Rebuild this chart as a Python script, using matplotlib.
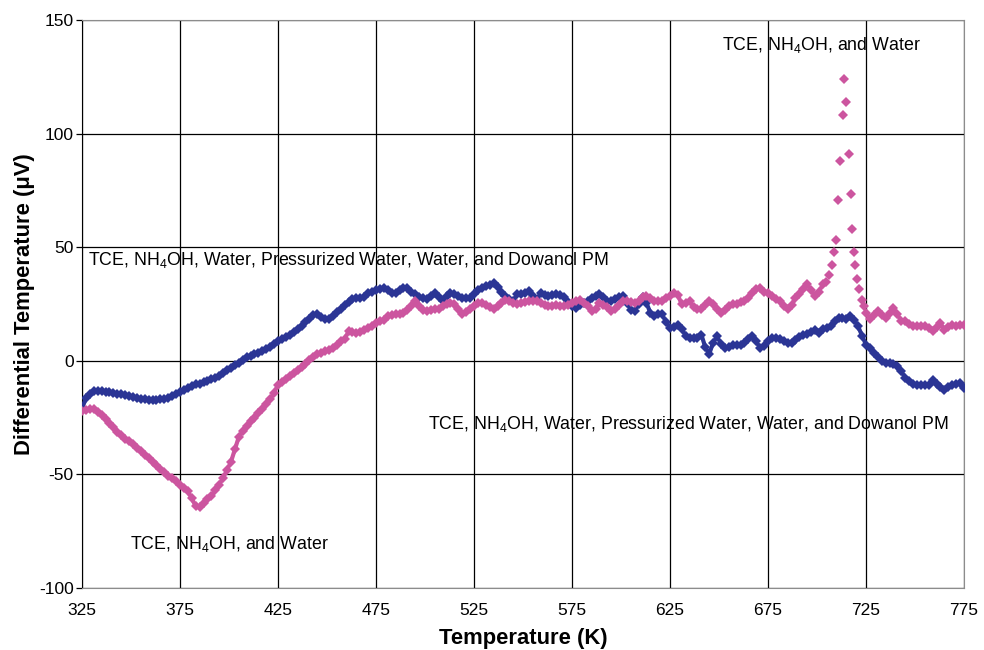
import numpy as np
import matplotlib.pyplot as plt

plt.rcParams['font.family'] = ['Liberation Sans', 'DejaVu Sans']
plt.rcParams['mathtext.fontset'] = 'custom'
plt.rcParams['mathtext.rm'] = 'Liberation Sans'
plt.rcParams['mathtext.it'] = 'Liberation Sans'
plt.rcParams['axes.unicode_minus'] = False

# %% Data

temp = [325, 327, 329, 331, 333, 335, 337, 339, 341, 343,
        345, 347, 349, 351, 353, 355, 357, 359, 361, 363,
        365, 367, 369, 371, 373, 375, 377, 379, 381, 383,
        385, 387, 389, 391, 393, 395, 397, 399, 401, 403,
        405, 407, 409, 411, 413, 415, 417, 419, 421, 423,
        425, 427, 429, 431, 433, 435, 437, 439, 441, 443,
        445, 447, 449, 451, 453, 455, 457, 459, 461, 463,
        465, 467, 469, 471, 473, 475, 477, 479, 481, 483,
        485, 487, 489, 491, 493, 495, 497, 499, 501, 503,
        505, 507, 509, 511, 513, 515, 517, 519, 521, 523,
        525, 527, 529, 531, 533, 535, 537, 539, 541, 543,
        545, 547, 549, 551, 553, 555, 557, 559, 561, 563,
        565, 567, 569, 571, 573, 575, 577, 579, 581, 583,
        585, 587, 589, 591, 593, 595, 597, 599, 601, 603,
        605, 607, 609, 611, 613, 615, 617, 619, 621, 623,
        625, 627, 629, 631, 633, 635, 637, 639, 641, 643,
        645, 647, 649, 651, 653, 655, 657, 659, 661, 663,
        665, 667, 669, 671, 673, 675, 677, 679, 681, 683,
        685, 687, 689, 691, 693, 695, 697, 699, 701, 703,
        705, 707, 709, 711, 713, 715, 717, 719, 721, 723,
        725, 727, 729, 731, 733, 735, 737, 739, 741, 743,
        745, 747, 749, 751, 753, 755, 757, 759, 761, 763,
        765, 767, 769, 771, 773, 775]

blue = [-21, -16.5, -14.5, -13.5, -13.2, -13.3, -13.6, -13.8, -14.2, -14.4,
        -14.8, -15.2, -15.5, -15.8, -16.2, -16.7, -16.9, -17.2, -17.3, -17.2,
        -17, -16.6, -16.2, -15.6, -14.5, -13.8, -13, -12, -11, -10.4,
        -10, -9.3, -8.8, -8, -7.5, -6.6, -5.5, -4.2, -3, -2,
        -0.8, 0.5, 1.5, 2.2, 2.8, 3.5, 4.2, 5, 6, 7.5,
        8.5, 9.5, 10.5, 11.5, 12.5, 14, 15.5, 17, 18.5, 20,
        20.5, 19.3, 18.5, 18.2, 19.8, 21.5, 22.6, 24.5, 26, 27,
        27.7, 27.5, 28, 29.8, 30.5, 31, 31.8, 32.1, 31.2, 30,
        29.9, 31, 32, 32.1, 30.5, 29.2, 28, 27.5, 27, 28.5,
        29.9, 28, 26.2, 28.5, 29.9, 29.5, 28.5, 27.5, 27.8, 27.7,
        29.5, 31, 32, 32.8, 33.5, 34.3, 32.5, 30.5, 28.5, 27,
        26.2, 29.5, 29.5, 30, 30.6, 28.5, 26.9, 29.9, 29, 28.4,
        28.8, 29.2, 29, 28, 26, 24, 23.3, 24.5, 25.5, 26.5,
        27.5, 28.5, 29.2, 28, 26.5, 26.2, 27, 28, 28.4, 25.5,
        22.5, 21.8, 25, 28, 25.5, 21, 19.6, 20.5, 20.4, 17,
        14.5, 14.8, 15.8, 14, 11, 10.1, 10, 10.1, 11.5, 6,
        3, 8, 10.7, 7.5, 5.6, 6.2, 6.8, 7, 7.1, 8,
        9.5, 10.7, 8.5, 5.6, 6.5, 8.5, 10.1, 10, 9.5, 8.8,
        8, 7.9, 9, 10.5, 11.5, 12, 12.5, 13.7, 12.3, 14,
        14.5, 15.1, 17.4, 18.8, 18.8, 18.5, 19.5, 18, 15.1, 11,
        7.1, 5.5, 3.4, 1.5, -0.3, -0.8, -1, -1.5, -2.5, -4.5,
        -7.6, -9, -10, -10.6, -10.5, -10.8, -10.6, -8.4, -10, -11.5,
        -12.8, -11.5, -10.6, -10, -9.8, -12]

pink = [-22, -21.5, -21.3, -21.4, -22.5, -23.8, -25.5, -27.3, -29.3, -31.2,
        -32.8, -34.2, -35.5, -36.8, -38.2, -39.8, -41.5, -43, -44.5, -46,
        -47.5, -49, -50.5, -51.8, -53, -54.5, -55.9, -57.5, -60.5, -64,
        -64.5, -62.5, -61, -59.6, -57, -54.5, -51.5, -48, -44.5, -39,
        -33.5, -31, -28.5, -26.5, -25.2, -23, -21, -19, -17, -14,
        -10.5, -9.3, -8, -6.8, -5.5, -4, -2.8, -1.5, 0.5, 1.8,
        2.8, 3.5, 4.2, 4.8, 5.5, 7, 8.6, 9.5, 13, 12.8,
        12.3, 12.5, 13.5, 14.5, 15.5, 16.7, 17.3, 18, 19.6, 20,
        20.4, 20.8, 21.1, 22.5, 24, 26.2, 24, 22.5, 21.8, 22.2,
        22.6, 23, 24, 25, 25.5, 25, 23, 20.4, 21.5, 23,
        24, 25.5, 25.5, 24.5, 23.5, 22.6, 24, 25.5, 26.9, 26.3,
        25.5, 25, 25.5, 26, 26.2, 26.5, 26.2, 25.5, 24.5, 24,
        24, 24.5, 24.2, 24, 24.5, 25.5, 26.5, 26.9, 25.5, 24,
        21.8, 23, 25.5, 24.5, 23.5, 21.8, 23, 24.5, 26.2, 26.3,
        26, 25.5, 26.5, 28, 28.4, 27.5, 26.2, 26.5, 26.2, 27.5,
        28.5, 29.9, 29, 24.8, 25.5, 26.2, 23.5, 22.6, 23, 24.5,
        26.2, 25, 23, 21.1, 22.5, 24, 24.8, 25.2, 25.7, 26.2,
        27.5, 29.9, 31.5, 32.1, 30.5, 29.9, 28.5, 27, 26.2, 24,
        22.6, 24.5, 27.7, 29.5, 31.5, 33.6, 31, 28.4, 30.5, 33.6,
        None, None, None, None, None, None, None, None, None, None,
        21.1, 18.2, 20, 21.8, 20, 18.8, 21, 23.3, 20.5, 17.4,
        17.4, 16, 15.1, 15.3, 15.5, 15.1, 14.5, 13, 15, 16.6,
        13.7, 14.8, 15.8, 15.2, 15.6, 15.8]

# sparse points around the pink spike
spike_t = [704.5, 706, 707.5, 708.8, 709.7, 710.7, 711.9, 713.1, 713.9, 714.8,
           716.2, 717.3, 718, 719, 719.5, 720.3, 721.6, 722.8, 724]
spike_v = [34.5, 37.7, 42, 47.8, 53.1, 70.7, 88.0, 108.4, 124.2, 113.9,
           91.2, 73.2, 58.1, 47.8, 42.1, 36.2, 31.5, 26.9, 24]

label_long = r'TCE, NH$_4$OH, Water, Pressurized Water, Water, and Dowanol PM'
label_short = r'TCE, NH$_4$OH, and Water'

# %% Plot

navy = '#2B3595'
magenta = '#CC559F'
ms = 5.1

fig = plt.figure(figsize=(9.84, 6.5), dpi=100)
ax = fig.add_axes([82/984, 1 - 588/650, (964 - 82)/984, (588 - 20)/650])

pink_arr = np.array([np.nan if v is None else v for v in pink], dtype=float)
# dense diamond markers; a thin line underneath keeps the band closed on steep parts
ax.plot(temp, blue, '-', color=navy, lw=3, zorder=3)
ax.plot(temp, blue, 'D', color=navy, ms=ms, mew=0, zorder=3)
ax.plot(temp, pink_arr, '-', color=magenta, lw=3, zorder=4)
ax.plot(temp, pink_arr, 'D', color=magenta, ms=ms, mew=0, zorder=4)
ax.plot(spike_t, spike_v, 'D', color=magenta, ms=4.6, mew=0, zorder=4)

ax.set_xlim(325, 775)
ax.set_ylim(-100, 150)
ax.set_xticks(np.arange(325, 776, 50))
ax.set_yticks(np.arange(-100, 151, 50))
ax.grid(True, color='black', lw=0.9)
ax.set_axisbelow(True)
for side in ['top', 'right', 'bottom']:
    ax.spines[side].set_color('#8c8c8c')
ax.spines['left'].set_color('black')
ax.tick_params(axis='y', length=4, width=0.9, labelsize=12.5, pad=2)
ax.tick_params(axis='x', length=0, labelsize=12.5, pad=11)

ax.set_xlabel('Temperature (K)', fontsize=15.8, fontweight='bold', labelpad=7)
ax.set_ylabel('Differential Temperature (\u03bcV)', fontsize=15.8, fontweight='bold', labelpad=3)

ax.text(328, 44.5, label_long, fontsize=12.8, va='center', ha='left', zorder=5)
ax.text(400.3, -80.5, label_short, fontsize=12.8, va='center', ha='center', zorder=5)
ax.text(501.5, -27.7, label_long, fontsize=12.8, va='center', ha='left', zorder=5)
ax.text(702.3, 139, label_short, fontsize=12.8, va='center', ha='center', zorder=5)

fig.savefig('out.png', dpi=100)
